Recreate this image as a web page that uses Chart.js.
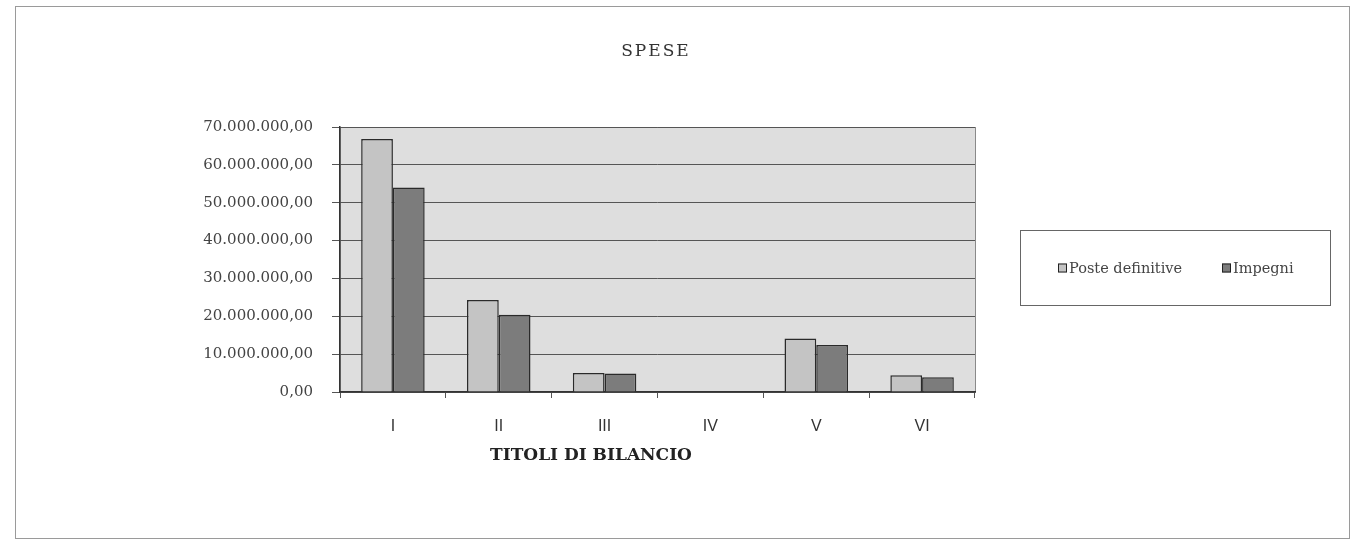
<!DOCTYPE html>
<html>
<head>
<meta charset="utf-8">
<script src="https://cdn.jsdelivr.net/npm/chart.js@4"></script>
<style>
  html, body { margin: 0; padding: 0; background: #ffffff; }
  #wrap { position: relative; width: 1358px; height: 549px; }
</style>
</head>
<body>
<div id="wrap"><canvas id="c" width="1358" height="549"></canvas></div>
<script>
const categories = ['I', 'II', 'III', 'IV', 'V', 'VI'];
const posteDefinitive = [66800000, 24300000, 5000000, 150000, 14100000, 4400000];
const impegni = [54000000, 20400000, 4900000, 150000, 12400000, 3900000];
const yTickValues = [0, 10000000, 20000000, 30000000, 40000000, 50000000, 60000000, 70000000];
const yTickLabels = ['0,00', '10.000.000,00', '20.000.000,00', '30.000.000,00', '40.000.000,00', '50.000.000,00', '60.000.000,00', '70.000.000,00'];
const chartTitle = 'SPESE';
const xAxisTitle = 'TITOLI DI BILANCIO';
const seriesNames = ['Poste definitive', 'Impegni'];

const decorPlugin = {
  id: 'decor',
  beforeDraw(chart) {
    const ctx = chart.ctx, a = chart.chartArea;
    ctx.save();
    ctx.fillStyle = '#ffffff';
    ctx.fillRect(0, 0, chart.width, chart.height);
    ctx.strokeStyle = '#9a9a9a';
    ctx.lineWidth = 1;
    ctx.strokeRect(15.5, 6.5, 1334, 532);
    ctx.fillStyle = '#dedede';
    ctx.fillRect(a.left, a.top, a.right - a.left, a.bottom - a.top);
    ctx.strokeStyle = '#8a8a8a';
    ctx.strokeRect(a.left + 0.5, a.top + 0.5, a.right - a.left, a.bottom - a.top);
    ctx.restore();
  },
  afterDraw(chart) {
    const ctx = chart.ctx;
    ctx.save();
    ctx.fillStyle = '#333333';
    ctx.font = '17px "DejaVu Serif"';
    ctx.letterSpacing = '2px';
    ctx.textAlign = 'center';
    ctx.textBaseline = 'middle';
    ctx.fillText(chartTitle, 656, 52);
    ctx.letterSpacing = '0px';
    ctx.font = 'bold 17px "DejaVu Serif"';
    ctx.fillStyle = '#222222';
    ctx.fillText(xAxisTitle, 591, 456);
    ctx.strokeStyle = '#666666';
    ctx.lineWidth = 1;
    ctx.strokeRect(1020.5, 230.5, 310, 75);
    const items = [{x: 1058}, {x: 1222}];
    ctx.font = '14.5px "DejaVu Serif"';
    ctx.textAlign = 'left';
    chart.data.datasets.forEach((ds, i) => {
      const x = items[i].x, y = 268;
      ctx.fillStyle = ds.backgroundColor;
      ctx.fillRect(x, y - 4.5, 9, 9);
      ctx.strokeStyle = '#222';
      ctx.strokeRect(x + 0.5, y - 4, 8, 8);
      ctx.fillStyle = '#444444';
      ctx.fillText(ds.label, x + 11, y + 1);
    });
    ctx.restore();
  }
};

new Chart(document.getElementById('c'), {
  type: 'bar',
  data: {
    labels: categories,
    datasets: [
      { label: seriesNames[0], data: posteDefinitive, backgroundColor: '#c4c4c4', borderColor: '#2a2a2a', borderWidth: 1.5 },
      { label: seriesNames[1], data: impegni, backgroundColor: '#7c7c7c', borderColor: '#2a2a2a', borderWidth: 1.5 }
    ]
  },
  options: {
    responsive: false,
    animation: false,
    layout: { padding: { top: 127, right: 383, left: 0, bottom: 0 } },
    plugins: { legend: { display: false }, title: { display: false }, tooltip: { enabled: false } },
    datasets: { bar: { categoryPercentage: 0.6, barPercentage: 1.0 } },
    scales: {
      x: {
        afterFit(scale) { scale.height = 157; },
        grid: { drawOnChartArea: false, drawTicks: true, tickLength: 6, color: '#555555', offset: true },
        border: { color: '#333333', width: 1.5 },
        ticks: { color: '#333333', font: { family: '"Liberation Sans"', size: 16 }, padding: 19 }
      },
      y: {
        min: 0, max: 70000000,
        afterFit(scale) { scale.width = 340; },
        afterBuildTicks(scale) { scale.ticks = yTickValues.map(v => ({ value: v })); },
        grid: { color: '#555555', lineWidth: 1, tickLength: 8 },
        border: { color: '#333333', width: 1.5 },
        ticks: {
          color: '#444444',
          font: { family: '"DejaVu Serif"', size: 15 },
          padding: 19,
          callback(value) { const i = yTickValues.indexOf(value); return i >= 0 ? yTickLabels[i] : ''; }
        }
      }
    }
  },
  plugins: [decorPlugin]
});
</script>
</body>
</html>
